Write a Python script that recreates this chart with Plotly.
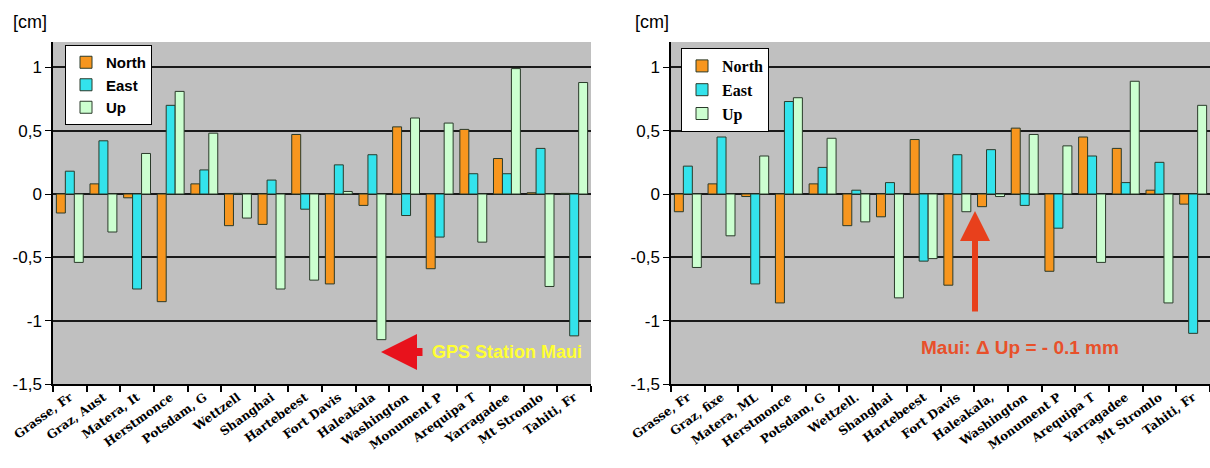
import plotly.graph_objects as go

# ---------------- data ----------------
stations_left = ["Grasse, Fr", "Graz, Aust", "Matera, It", "Herstmonce", "Potsdam, G",
                 "Wettzell", "Shanghai", "Hartebeest", "Fort Davis", "Haleakala",
                 "Washington", "Monument P", "Arequipa T", "Yarragadee", "Mt Stromlo", "Tahiti, Fr"]
north_left = [-0.15, 0.08, -0.03, -0.85, 0.08, -0.25, -0.24, 0.47, -0.71, -0.09,
              0.53, -0.59, 0.51, 0.28, 0.01, 0.005]
east_left = [0.18, 0.42, -0.75, 0.70, 0.19, 0.005, 0.11, -0.12, 0.23, 0.31,
             -0.17, -0.34, 0.16, 0.16, 0.36, -1.12]
up_left = [-0.54, -0.30, 0.32, 0.81, 0.48, -0.19, -0.75, -0.68, 0.02, -1.15,
           0.60, 0.56, -0.38, 0.99, -0.73, 0.88]

stations_right = ["Grasse, Fr", "Graz, fixe", "Matera, ML", "Herstmonce", "Potsdam, G",
                  "Wettzell.", "Shanghai", "Hartebeest", "Fort Davis", "Haleakala,",
                  "Washington", "Monument P", "Arequipa T", "Yarragadee", "Mt Stromlo", "Tahiti, Fr"]
north_right = [-0.14, 0.08, -0.02, -0.86, 0.08, -0.25, -0.18, 0.43, -0.72, -0.10,
               0.52, -0.61, 0.45, 0.36, 0.03, -0.08]
east_right = [0.22, 0.45, -0.71, 0.73, 0.21, 0.03, 0.09, -0.53, 0.31, 0.35,
              -0.09, -0.27, 0.30, 0.09, 0.25, -1.10]
up_right = [-0.58, -0.33, 0.30, 0.76, 0.44, -0.22, -0.82, -0.51, -0.14, -0.02,
            0.47, 0.38, -0.54, 0.89, -0.86, 0.70]

series_names = ["North", "East", "Up"]
colors = ["#F7961E", "#33E3EC", "#CCFFD0"]
ytick_vals = [-1.5, -1, -0.5, 0, 0.5, 1]
ytick_text = ["-1,5", "-1", "-0,5", "0", "0,5", "1"]

W, H = 1210, 468
def px(x): return x / W
def py(y): return 1 - y / H

fig = go.Figure()

for vals, name, col in zip([north_left, east_left, up_left], series_names, colors):
    fig.add_trace(go.Bar(x=stations_left, y=vals, name=name, marker_color=col,
                         marker_line=dict(color="#2a3a2a", width=1),
                         xaxis="x", yaxis="y", legend="legend"))
for vals, name, col in zip([north_right, east_right, up_right], series_names, colors):
    fig.add_trace(go.Bar(x=stations_right, y=vals, name=name, marker_color=col,
                         marker_line=dict(color="#2a3a2a", width=1),
                         xaxis="x2", yaxis="y2", legend="legend2"))

ydom = [py(384), py(42)]
xcommon = dict(type="category", tickson="boundaries", ticks="outside", ticklen=6,
               tickcolor="#000", tickwidth=1.5, tickangle=-36, showgrid=False,
               showline=True, linecolor="#000", linewidth=1.5, range=[-0.5, 15.5],
               automargin=False)
ycommon = dict(range=[-1.5, 1.2], tickvals=ytick_vals, ticktext=ytick_text,
               showgrid=True, gridcolor="#1a1a1a", gridwidth=1.5,
               zeroline=True, zerolinecolor="#1a1a1a", zerolinewidth=1.5,
               showline=True, linecolor="#000", linewidth=1.5,
               ticks="outside", ticklen=6, tickcolor="#000", automargin=False,
               tickfont=dict(family="Liberation Sans, Arial", size=17, color="#000"))

fig.update_layout(
    width=W, height=H,
    margin=dict(l=0, r=0, t=0, b=0),
    paper_bgcolor="white",
    plot_bgcolor="#C0C0C0",
    barmode="group", bargap=0.2, bargroupgap=0.0,
    xaxis=dict(domain=[px(53), px(591)], anchor="y",
               tickfont=dict(family="DejaVu Serif", size=12, color="#000", weight=700), **xcommon),
    yaxis=dict(domain=ydom, anchor="x", **ycommon),
    xaxis2=dict(domain=[px(671), 1.0], anchor="y2",
                tickfont=dict(family="DejaVu Serif", size=12, color="#000", weight=700), **xcommon),
    yaxis2=dict(domain=ydom, anchor="x2", **ycommon),
    legend=dict(x=px(65), y=py(45), xanchor="left", yanchor="top",
                bgcolor="white", bordercolor="#000", borderwidth=1,
                font=dict(family="Liberation Sans, Arial", size=15, color="#000", weight=700),
                itemwidth=30, tracegroupgap=0),
    legend2=dict(x=px(681), y=py(48), xanchor="left", yanchor="top",
                 bgcolor="white", bordercolor="#000", borderwidth=1,
                 font=dict(family="Liberation Serif, Times New Roman", size=16, color="#000", weight=700),
                 itemwidth=30, tracegroupgap=0),
    showlegend=True,
)

# Unit labels
fig.add_annotation(x=px(11), y=py(22), xref="paper", yref="paper", text="[cm]",
                   showarrow=False, xanchor="left", yanchor="middle",
                   font=dict(family="Liberation Sans, Arial", size=18, color="#000"))
fig.add_annotation(x=px(633), y=py(22), xref="paper", yref="paper", text="[cm]",
                   showarrow=False, xanchor="left", yanchor="middle",
                   font=dict(family="Liberation Sans, Arial", size=18, color="#000"))

# Left: arrow and text
fig.add_annotation(x=px(381), y=py(352), ax=43, ay=0, xref="paper", yref="paper",
                   axref="pixel", ayref="pixel", text="", showarrow=True,
                   arrowhead=2, arrowsize=0.9, arrowwidth=8, arrowcolor="#E8121C")
fig.add_annotation(x=px(430), y=py(352), xref="paper", yref="paper", text="<b>GPS Station Maui</b>",
                   showarrow=False, xanchor="left", yanchor="middle",
                   font=dict(family="Liberation Sans, Arial", size=18, color="#FFFF33"))

# Right: arrow and text
fig.add_annotation(x=px(975), y=py(211), ax=0, ay=102, xref="paper", yref="paper",
                   axref="pixel", ayref="pixel", text="", showarrow=True,
                   arrowhead=2, arrowsize=1.0, arrowwidth=6, arrowcolor="#E8401C")
fig.add_annotation(x=px(919), y=py(347), xref="paper", yref="paper", text="<b>Maui: Δ Up = - 0.1 mm</b>",
                   showarrow=False, xanchor="left", yanchor="middle",
                   font=dict(family="Liberation Sans, Arial", size=19, color="#E8502A"))

fig.write_html("out.html", config={"displayModeBar": False},
               post_script="document.body.style.margin='0';document.body.style.overflow='hidden';")
